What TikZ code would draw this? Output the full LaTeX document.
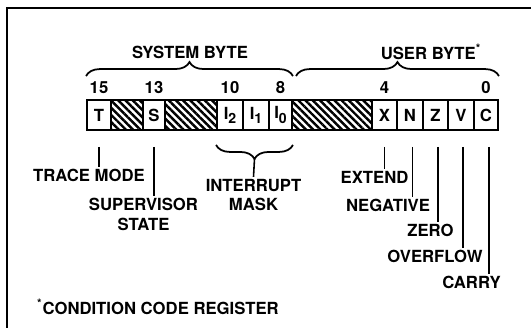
\documentclass[tikz,border=0pt]{standalone}
\usepackage{fontspec}
\setmainfont{TeX Gyre Heros}
\usetikzlibrary{positioning,patterns.meta,decorations.pathreplacing}
\newcommand{\bitsub}[1]{\raisebox{-0.45ex}{\fontsize{8}{8}\selectfont #1}}

\begin{document}
\begin{tikzpicture}[x=0.02cm, y=-0.02cm,
  every node/.style={font=\bfseries\fontsize{9.5}{11.3}\selectfont, inner sep=1pt},
  bitcell/.style={draw, line width=1.1pt, minimum height=0.6cm, inner sep=0pt},
  hatchcell/.style={bitcell, pattern={Lines[angle=-45, distance=2.9pt, line width=1.4pt]}},
  bitnum/.style={above=0.06cm of #1},
  brc/.style={decorate, decoration={brace, amplitude=0.28cm}, line width=1pt},
  lead/.style={line width=0.9pt}]
  \useasboundingbox (0,0) rectangle (531,328);
  \draw[line width=0.6pt] (7,328) -- (7,8) -- (531,8);
  \node[bitcell, minimum width=0.48cm] (bT) at (99,115) {T};
  \node[hatchcell, minimum width=0.64cm] (b14) at (127,115) {};
  \node[bitcell, minimum width=0.44cm] (bS) at (154,115) {S};
  \node[hatchcell, minimum width=1.04cm] (b12) at (191,115) {};
  \node[bitcell, minimum width=0.52cm] (bI2) at (230,115) {I\bitsub{2}};
  \node[bitcell, minimum width=0.52cm] (bI1) at (256,115) {I\bitsub{1}};
  \node[bitcell, minimum width=0.46cm] (bI0) at (280.5,115) {I\bitsub{0}};
  \node[hatchcell, minimum width=1.6cm] (b7) at (332,115) {};
  \node[bitcell, minimum width=0.5cm] (bX) at (384.5,115) {X};
  \node[bitcell, minimum width=0.52cm] (bN) at (410,115) {N};
  \node[bitcell, minimum width=0.5cm] (bZ) at (435.5,115) {Z};
  \node[bitcell, minimum width=0.52cm] (bV) at (461,115) {V};
  \node[bitcell, minimum width=0.48cm] (bC) at (486,115) {C};
  \node[bitnum=bT] (n15) {15};
  \node[bitnum=bS] (n13) {13};
  \node[bitnum=bI2] (n10) {10};
  \node[bitnum=bI0] (n8) {8};
  \node[bitnum=bX] (n4) {4};
  \node[bitnum=bC] (n0) {0};
  \draw[brc] ([yshift=0.46cm]bT.north west) -- ([yshift=0.46cm]bI0.north east);
  \draw[brc] ([yshift=0.46cm, xshift=0.06cm]bI0.north east) -- ([yshift=0.46cm]bC.north east);
  \node (sysbyte) at (190,52) {SYSTEM BYTE};
  \node (userbyte) at (431,52) {USER BYTE\textsuperscript{*}};
  \draw[brc] ([yshift=-0.28cm]bI0.south east) -- ([yshift=-0.28cm]bI2.south west) coordinate[midway, yshift=-0.28cm] (mtip);
  \node (trace) at (89,175) {TRACE MODE};
  \node[align=center] (super) at (143.5,214) {SUPERVISOR\\STATE};
  \node[align=center] (intmask) at (253.5,195) {INTERRUPT\\MASK};
  \node (extend) at (374.5,177) {EXTEND};
  \node (negative) at (388,205) {NEGATIVE};
  \node (zero) at (430.5,230) {ZERO};
  \node (overflow) at (435,256) {OVERFLOW};
  \node (carry) at (471.5,282) {CARRY};
  \node[anchor=west] (ccr) at (35,307) {\textsuperscript{*}CONDITION CODE REGISTER};
  \draw[lead] (mtip) -- (intmask.north);
  \draw[lead] ([yshift=-0.32cm]bT.south) -- (bT.south |- trace.north);
  \draw[lead] ([yshift=-0.32cm]bS.south) -- (bS.south |- super.north);
  \draw[lead] ([yshift=-0.32cm]bX.south) -- (bX.south |- extend.north);
  \draw[lead] ([yshift=-0.32cm, xshift=0.05cm]bN.south) -- ([xshift=0.05cm]bN.south |- negative.north);
  \draw[lead] ([yshift=-0.32cm, xshift=0.05cm]bZ.south) -- ([xshift=0.05cm]bZ.south |- zero.north);
  \draw[lead] ([yshift=-0.32cm, xshift=0.04cm]bV.south) -- ([xshift=0.04cm]bV.south |- overflow.north);
  \draw[lead] ([yshift=-0.32cm, xshift=0.06cm]bC.south) -- ([xshift=0.06cm]bC.south |- carry.north);
\end{tikzpicture}
\end{document}
